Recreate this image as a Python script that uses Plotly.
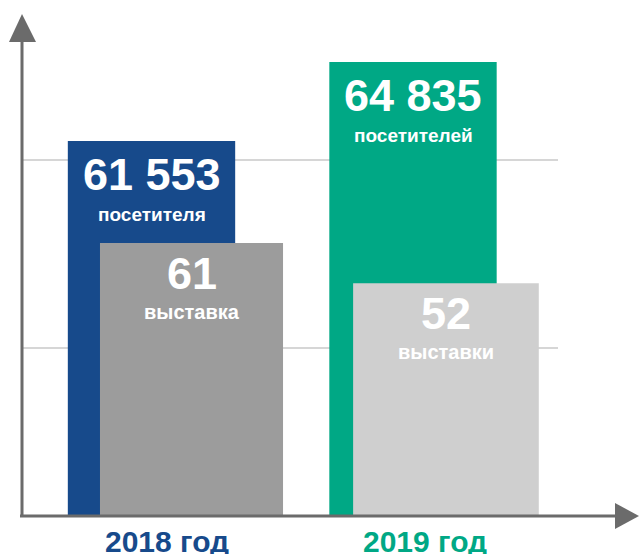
import plotly.graph_objects as go

# ---- data ----
years = ["2018 год", "2019 год"]
visitors = [61553, 64835]
visitor_labels = ["61 553", "64 835"]
visitor_words = ["посетителя", "посетителей"]
exhibitions = [61, 52]
exhibition_words = ["выставка", "выставки"]

# ---- style ----
BLUE = "#174a8b"
GREEN = "#00a885"
GRAY = "#9c9c9c"
LGRAY = "#cfcfcf"
AXIS = "#6b6b6b"
GRID = "#c9c9c9"
FONT = "Liberation Sans"

W, H = 640, 554
ML, MR, MT, MB = 22, 2, 14, 38
PW, PH = W - ML - MR, H - MT - MB

xpos = [0, 1]
v_colors = [BLUE, GREEN]
e_colors = [GRAY, LGRAY]
year_colors = [BLUE, GREEN]
e_offset = [-0.197, -0.229]
e_width = [0.70, 0.71]


def px(x):
    return (x - ML) / PW


def py(y):
    return (MT + PH - y) / PH


fig = go.Figure()
fig.add_trace(go.Bar(x=xpos, y=visitors, width=0.64, marker=dict(color=v_colors, line=dict(width=0)),
                     yaxis="y", hoverinfo="skip"))
fig.add_trace(go.Bar(x=xpos, y=exhibitions, width=e_width, offset=e_offset,
                     marker=dict(color=e_colors, line=dict(width=0)), yaxis="y2", hoverinfo="skip"))

ann = []
for i in range(2):
    ann.append(dict(x=xpos[i], y=visitors[i], xref="x", yref="y", yanchor="middle", yshift=-33,
                    text="<b>%s</b>" % visitor_labels[i], showarrow=False,
                    font=dict(family=FONT, size=45, color="white")))
    ann.append(dict(x=xpos[i], y=visitors[i], xref="x", yref="y", yanchor="middle", yshift=-73,
                    text="<b>%s</b>" % visitor_words[i], showarrow=False,
                    font=dict(family=FONT, size=19, color="white")))
    cx = xpos[i] + e_offset[i] + e_width[i] / 2
    ann.append(dict(x=cx, y=exhibitions[i], xref="x", yref="y2", yanchor="middle", yshift=-30,
                    text="<b>%d</b>" % exhibitions[i], showarrow=False,
                    font=dict(family=FONT, size=45, color="white")))
    ann.append(dict(x=cx, y=exhibitions[i], xref="x", yref="y2", yanchor="middle", yshift=-69,
                    text="<b>%s</b>" % exhibition_words[i], showarrow=False,
                    font=dict(family=FONT, size=20, color="white")))
    ann.append(dict(x=xpos[i] + 0.06 - 0.015 * i, y=py(541), xref="x", yref="paper", yanchor="middle",
                    text="<b>%s</b>" % years[i], showarrow=False,
                    font=dict(family=FONT, size=30, color=year_colors[i])))

shapes = []
# gridlines
for gy in (160, 348):
    shapes.append(dict(type="line", xref="paper", yref="paper", x0=px(22), x1=px(558), y0=py(gy), y1=py(gy),
                       line=dict(color=GRID, width=1.5), layer="below"))
# y axis + arrow
shapes.append(dict(type="line", xref="paper", yref="paper", x0=px(22), x1=px(22), y0=py(517), y1=py(40),
                   line=dict(color=AXIS, width=3), layer="above"))
shapes.append(dict(type="path", xref="paper", yref="paper",
                   path="M %f %f L %f %f L %f %f Z" % (px(9), py(42), px(22), py(14), px(36), py(42)),
                   fillcolor=AXIS, line=dict(width=0), layer="above"))
# x axis + arrow
shapes.append(dict(type="line", xref="paper", yref="paper", x0=px(20), x1=px(617), y0=py(516), y1=py(516),
                   line=dict(color=AXIS, width=3), layer="above"))
shapes.append(dict(type="path", xref="paper", yref="paper",
                   path="M %f %f L %f %f L %f %f Z" % (px(615), py(503), px(639), py(516), px(615), py(529)),
                   fillcolor=AXIS, line=dict(width=0), layer="above"))

fig.update_layout(
    width=W, height=H,
    margin=dict(l=ML, r=MR, t=MT, b=MB, pad=0),
    paper_bgcolor="white", plot_bgcolor="white",
    barmode="overlay", showlegend=False,
    xaxis=dict(range=[-0.4952, 1.8604], visible=False),
    yaxis=dict(range=[45974, 66829], visible=False),
    yaxis2=dict(range=[0, 112.2], visible=False, overlaying="y"),
    annotations=ann, shapes=shapes,
)

fig.write_html("out.html", config={"displayModeBar": False},
               post_script="document.body.style.margin='0';document.body.style.padding='0';")
